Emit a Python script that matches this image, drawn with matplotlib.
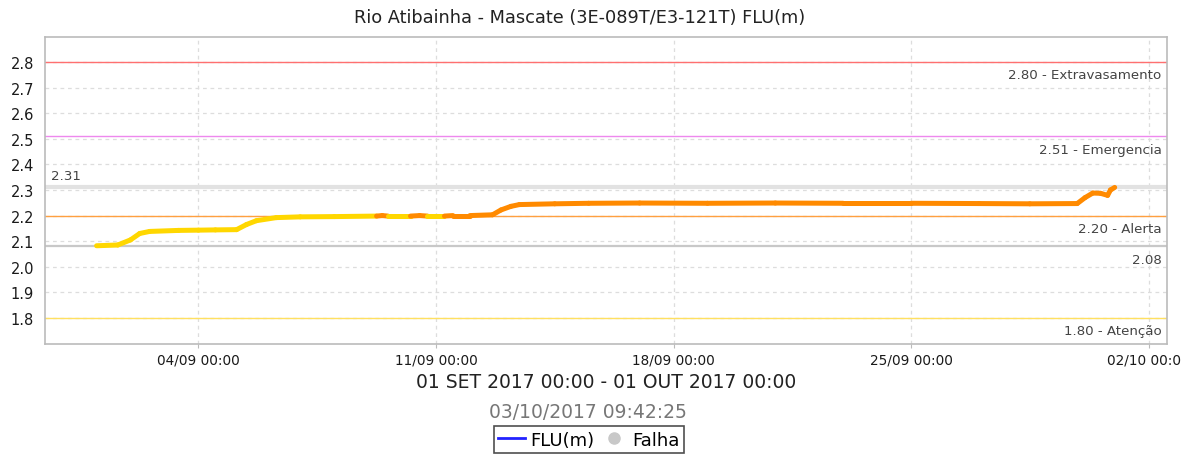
import matplotlib
matplotlib.use("Agg")
import matplotlib.pyplot as plt
import matplotlib.dates as mdates
import matplotlib.transforms as mtransforms
from matplotlib.lines import Line2D
import numpy as np
import pandas as pd

# ---------------- data ----------------
title = "Rio Atibainha - Mascate (3E-089T/E3-121T) FLU(m)"
period_label = "01 SET 2017 00:00 - 01 OUT 2017 00:00"
stamp_label = "03/10/2017 09:42:25"

times = [
    "2017-09-01 00:00", "2017-09-01 15:00", "2017-09-02 00:00", "2017-09-02 06:30",
    "2017-09-02 13:30", "2017-09-03 10:00", "2017-09-04 00:00", "2017-09-04 12:00",
    "2017-09-05 03:00", "2017-09-05 10:00", "2017-09-05 17:00", "2017-09-06 07:00",
    "2017-09-07 00:00", "2017-09-08 00:00", "2017-09-09 06:00", "2017-09-09 10:00",
    "2017-09-09 14:00", "2017-09-10 06:00", "2017-09-10 12:30", "2017-09-10 18:00",
    "2017-09-11 06:00", "2017-09-11 12:00", "2017-09-11 20:00", "2017-09-12 00:00",
    "2017-09-12 16:00", "2017-09-12 22:00", "2017-09-13 05:00", "2017-09-13 11:00",
    "2017-09-14 12:00", "2017-09-15 12:00", "2017-09-17 00:00", "2017-09-19 00:00",
    "2017-09-21 00:00", "2017-09-23 00:00", "2017-09-25 00:00", "2017-09-27 00:00",
    "2017-09-28 12:00", "2017-09-29 21:30", "2017-09-30 03:00", "2017-09-30 08:30",
    "2017-09-30 14:00", "2017-09-30 19:00", "2017-09-30 21:00", "2017-10-01 00:00",
]
flu = [
    2.082, 2.085, 2.105, 2.130,
    2.138, 2.142, 2.143, 2.144,
    2.145, 2.165, 2.180, 2.192,
    2.195, 2.196, 2.198, 2.200,
    2.198, 2.198, 2.200, 2.198,
    2.198, 2.200, 2.200, 2.200,
    2.203, 2.222, 2.236, 2.243,
    2.246, 2.248, 2.249, 2.248,
    2.249, 2.248, 2.248, 2.247,
    2.246, 2.247, 2.270, 2.288,
    2.287, 2.279, 2.300, 2.310,
]

levels = [2.80, 2.51, 2.20, 1.80]
level_names = ["Extravasamento", "Emergencia", "Alerta", "Atenção"]
level_colors = ["#ff7070", "#ee88ee", "#ffa040", "#ffe060"]
current_max = 2.31
current_min = 2.08

xticks = ["2017-09-04", "2017-09-11", "2017-09-18", "2017-09-25", "2017-10-02"]
yticks = [1.8, 1.9, 2.0, 2.1, 2.2, 2.3, 2.4, 2.5, 2.6, 2.7, 2.8]

# ---------------- figure ----------------
plt.rcParams['font.family'] = ['DejaVu Sans']
fig = plt.figure(figsize=(11.81, 4.60), dpi=100)
ax = fig.add_axes([45/1181, 115/460, (1167-45)/1181, (345-38)/460])

ax.set_xlim(pd.Timestamp("2017-08-30 11:30"), pd.Timestamp("2017-10-02 13:00"))
ax.set_ylim(1.698, 2.898)

ax.set_yticks(yticks)
ax.set_yticklabels([f"{v:.1f}" for v in yticks], fontsize=10.5, color="#1a1a1a")
ax.set_xticks([pd.Timestamp(t) for t in xticks])
ax.xaxis.set_major_formatter(mdates.DateFormatter("%d/%m %H:%M"))
ax.tick_params(axis='x', labelsize=9.8, colors="#1a1a1a", length=3, color="#bbbbbb", pad=3)
ax.tick_params(axis='y', length=0, pad=8)

ax.grid(True, linestyle=(0, (3, 3)), color="#dddddd", linewidth=0.9)
for s in ax.spines.values():
    s.set_color("#bbbbbb")
    s.set_linewidth(1.2)

# level lines
trans_r = mtransforms.blended_transform_factory(ax.transAxes, ax.transData)
for v, name, c in zip(levels, level_names, level_colors):
    ax.axhline(v, color=c, linewidth=1.0, zorder=2)
    ax.annotate(f"{v:.2f} - {name}", xy=(1, v), xycoords=trans_r,
                xytext=(-4, -4.5), textcoords="offset points",
                ha="right", va="top", fontsize=9.6, color="#444444")

ax.axhline(current_max, color="#e2e2e2", linewidth=3, zorder=2)
ax.annotate(f"{current_max:.2f}", xy=(0, current_max), xycoords=trans_r,
            xytext=(4, 4), textcoords="offset points",
            ha="left", va="bottom", fontsize=9.6, color="#444444")
ax.axhline(current_min, color="#c8c8c8", linewidth=1.6, zorder=2)
ax.annotate(f"{current_min:.2f}", xy=(1, current_min), xycoords=trans_r,
            xytext=(-4, -4.5), textcoords="offset points",
            ha="right", va="top", fontsize=9.6, color="#444444")

# series, coloured by level
t = pd.to_datetime(times)
v = np.array(flu)
for i in range(len(v) - 1):
    col = "#ff8a00" if max(v[i], v[i + 1]) >= 2.20 else "#ffd700"
    ax.plot(t[i:i + 2], v[i:i + 2], color=col, linewidth=3.6,
            solid_capstyle="round", solid_joinstyle="round", zorder=3)

# titles / labels
fig.text(580/1181, 1 - 18/460, title, ha="center", va="center", fontsize=12.8, color="#222222")
fig.text(606/1181, 1 - 383/460, period_label, ha="center", va="center", fontsize=13.5, color="#222222")
fig.text(588/1181, 1 - 413/460, stamp_label, ha="center", va="center", fontsize=13.5, color="#777777")

handles = [Line2D([], [], color="#2222ff", linewidth=2),
           Line2D([], [], color="#c8c8c8", marker="o", linestyle="none", markersize=8)]
leg = fig.legend(handles, ["FLU(m)", "Falha"], loc="upper center",
                 bbox_to_anchor=(589/1181, 1 - 427/460), ncol=2, frameon=True,
                 fancybox=False, edgecolor="#222222", fontsize=13,
                 handlelength=1.5, handletextpad=0.3, columnspacing=0.3,
                 borderpad=0.25, borderaxespad=0)
leg.get_frame().set_linewidth(1.2)

fig.savefig("out.png", dpi=100)
